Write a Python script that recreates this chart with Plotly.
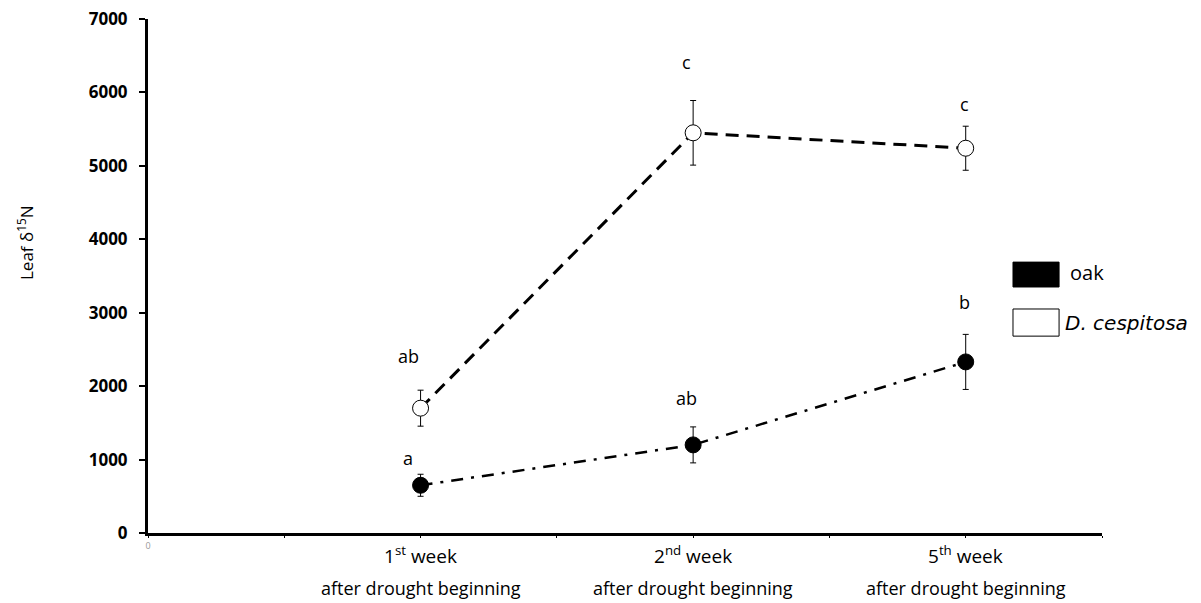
import plotly.graph_objects as go

# ---- data ----
weeks = [1, 2, 3]
week_line1 = ["1<sup>st</sup> week", "2<sup>nd</sup> week", "5<sup>th</sup> week"]
week_line2 = ["after drought beginning"] * 3

oak_mean = [650, 1200, 2330]
oak_err = [150, 245, 375]
dc_mean = [1700, 5450, 5240]
dc_err = [245, 440, 300]

oak_letters = ["a", "ab", "b"]
dc_letters = ["ab", "c", "c"]
oak_letter_y = [1020, 1840, 3150]
dc_letter_y = [2410, 6420, 5845]
letter_x_offset = [-0.045, -0.025, -0.005]

y_ticks = [0, 1000, 2000, 3000, 4000, 5000, 6000, 7000]

FONT = "Open Sans"

fig = go.Figure()

fig.add_trace(go.Scatter(
    x=weeks, y=dc_mean, mode="lines+markers", name="D. cespitosa",
    line=dict(color="black", width=3, dash="13px,8px"),
    marker=dict(symbol="circle", size=16, color="white", line=dict(color="black", width=1)),
    error_y=dict(type="data", array=dc_err, color="black", thickness=1, width=3),
    showlegend=False,
))
fig.add_trace(go.Scatter(
    x=weeks, y=oak_mean, mode="lines+markers", name="oak",
    line=dict(color="black", width=2.5, dash="12px,8px,3px,8px"),
    marker=dict(symbol="circle", size=16, color="black", line=dict(color="black", width=1)),
    error_y=dict(type="data", array=oak_err, color="black", thickness=1, width=3),
    showlegend=False,
))

annotations = []
for x, t, y, dx in zip(weeks, oak_letters, oak_letter_y, letter_x_offset):
    annotations.append(dict(x=x + dx, y=y, text=t, showarrow=False, xref="x", yref="y",
                            font=dict(family=FONT, size=18, color="black")))
for x, t, y, dx in zip(weeks, dc_letters, dc_letter_y, letter_x_offset):
    annotations.append(dict(x=x + dx, y=y, text=t, showarrow=False, xref="x", yref="y",
                            font=dict(family=FONT, size=18, color="black")))
for x, l1, l2 in zip(weeks, week_line1, week_line2):
    annotations.append(dict(x=x, y=0, xref="x", yref="paper", text=l1, showarrow=False,
                            xanchor="center", yanchor="middle", yshift=-22,
                            font=dict(family=FONT, size=19, color="black")))
    annotations.append(dict(x=x, y=0, xref="x", yref="paper", text=l2, showarrow=False,
                            xanchor="center", yanchor="middle", yshift=-55,
                            font=dict(family=FONT, size=18, color="black")))

# y-axis title
annotations.append(dict(x=-0.129, y=0.566, xref="paper", yref="paper", text="Leaf δ<sup>15</sup>N",
                        textangle=-90, showarrow=False, xanchor="center", yanchor="middle",
                        font=dict(family=FONT, size=17, color="black")))
# legend labels
annotations.append(dict(x=0.9644, y=0.506, xref="paper", yref="paper", text="oak",
                        xanchor="left", yanchor="middle",
                        showarrow=False, font=dict(family=FONT, size=20, color="black")))
annotations.append(dict(x=0.959, y=0.4086, xref="paper", yref="paper", text="<i>D. cespitosa</i>",
                        xanchor="left", yanchor="middle", showarrow=False,
                        font=dict(family="DejaVu Sans", size=20, color="black")))

shapes = [
    dict(type="rect", xref="paper", yref="paper", x0=0.9067, x1=0.955, y0=0.4786, y1=0.527,
         fillcolor="black", line=dict(color="black", width=1)),
    dict(type="rect", xref="paper", yref="paper", x0=0.9067, x1=0.955, y0=0.383, y1=0.4358,
         fillcolor="white", line=dict(color="black", width=1)),
]

fig.update_layout(
    width=1201, height=603,
    margin=dict(l=140, r=107, t=11, b=78, autoexpand=False),
    paper_bgcolor="white", plot_bgcolor="white",
    annotations=annotations, shapes=shapes,
    xaxis=dict(range=[0, 3.5], tickvals=[0], ticktext=["0"], automargin=False,
               showgrid=False, zeroline=False, showline=True, linecolor="black", linewidth=3,
               ticks="outside", ticklen=2, tickwidth=1, tickcolor="black",
               minor=dict(tick0=0, dtick=0.5, ticks="outside", ticklen=2, tickwidth=1,
                          tickcolor="black", showgrid=False),
               tickfont=dict(family=FONT, size=9, color="#999999")),
    yaxis=dict(range=[0, 7000], tickvals=y_ticks, showgrid=False, zeroline=False,
               showline=True, linecolor="black", linewidth=3, automargin=False,
               ticks="outside", ticklen=6, tickwidth=2, tickcolor="black",
               ticklabelstandoff=8, ticklabeloverflow="allow",
               tickfont=dict(family=FONT, size=17, color="black", weight="bold")),
)

fig.write_html("out.html")
